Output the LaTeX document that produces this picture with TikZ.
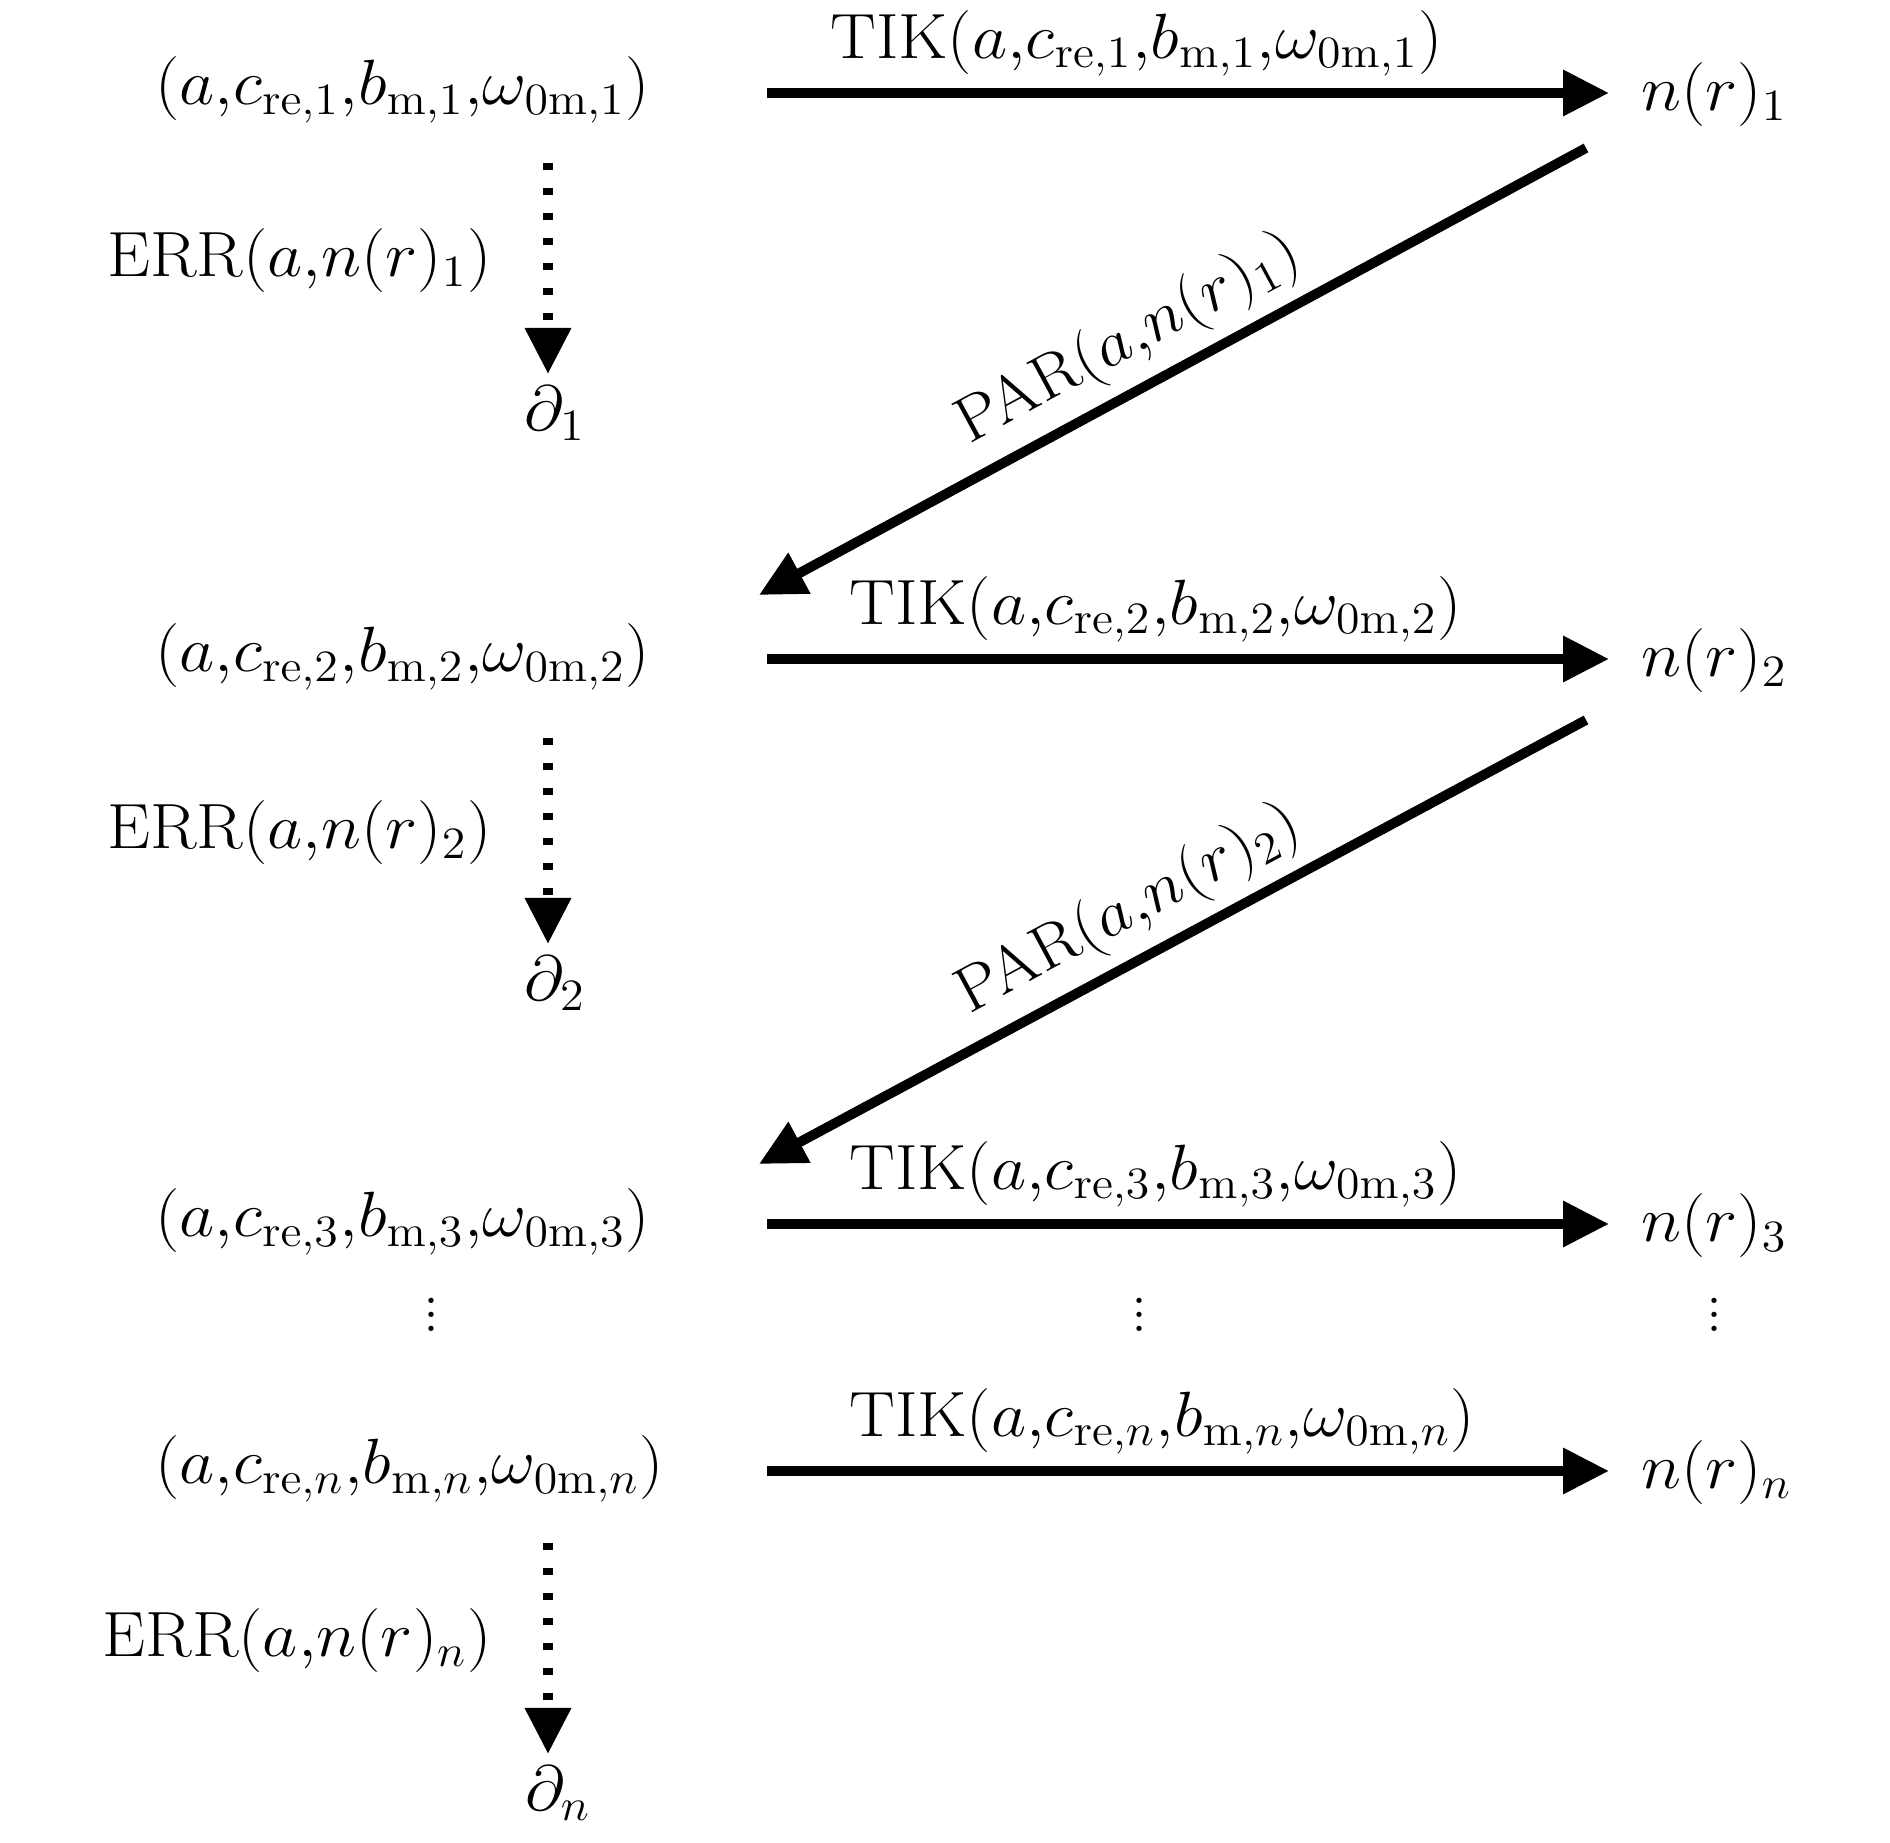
\documentclass[tikz,border=0pt]{standalone}
\usepackage{fix-cm}
\usepackage{tikz}
\usetikzlibrary{arrows.meta}

\newcommand{\sx}[1]{\scalebox{1.07}[1]{$#1$}}

\begin{document}
\begin{tikzpicture}[
  tik/.style={line width=2.8pt,-{Triangle[length=4.6mm,width=4.4mm]}},
  err/.style={tik,dash pattern=on 2.1pt off 5pt},
  txt/.style={font=\fontsize{18.2}{22}\selectfont},
  tiklabel/.style={txt,pos=0,above right},
  errlabel/.style={txt,left=0.4cm,yshift=0.08cm},
]
\useasboundingbox (0,0) rectangle (18.9,-18.43);

% free ends of the connectors
\coordinate (S1) at (7.67,-0.93);
\coordinate (S2) at (7.67,-6.59);
\coordinate (S3) at (7.67,-12.24);
\coordinate (Sn) at (7.67,-14.71);
\coordinate (D1) at (5.48,-1.63);
\coordinate (D2) at (5.48,-7.38);
\coordinate (Dn) at (5.48,-15.43);
\coordinate (P1) at (15.86,-1.48);
\coordinate (P2) at (15.86,-7.20);
\coordinate (Q1) at (7.59,-5.95);
\coordinate (Q2) at (7.59,-11.64);

% tuples
\node[txt,anchor=west] (T1) at (1.43,-0.90) {\sx{(a{,}c_{\mathrm{re},1}{,}b_{\mathrm{m},1}{,}\omega_{0\mathrm{m},1})}};
\node[txt,anchor=west] (T2) at (1.43,-6.57) {\sx{(a{,}c_{\mathrm{re},2}{,}b_{\mathrm{m},2}{,}\omega_{0\mathrm{m},2})}};
\node[txt,anchor=west] (T3) at (1.43,-12.22) {\sx{(a{,}c_{\mathrm{re},3}{,}b_{\mathrm{m},3}{,}\omega_{0\mathrm{m},3})}};
\node[txt,anchor=west] (Tn) at (1.43,-14.69) {\sx{(a{,}c_{\mathrm{re},n}{,}b_{\mathrm{m},n}{,}\omega_{0\mathrm{m},n})}};

% results
\node[txt,anchor=west] (R1) at (16.29,-0.95) {\sx{n(r)_1}};
\node[txt,anchor=west] (R2) at (16.29,-6.61) {\sx{n(r)_2}};
\node[txt,anchor=west] (R3) at (16.29,-12.26) {\sx{n(r)_3}};
\node[txt,anchor=west] (Rn) at (16.29,-14.73) {\sx{n(r)_n}};

% errors
\node[txt,anchor=north] (E1) at (5.55,-3.74) {\sx{\partial_1}};
\node[txt,anchor=north] (E2) at (5.55,-9.44) {\sx{\partial_2}};
\node[txt,anchor=north] (En) at (5.58,-17.54) {\sx{\partial_n}};

% dots
\node[txt] (V1) at (4.31,-13.04) {$\vdots$};
\node[txt] (V2) at (11.39,-13.04) {$\vdots$};
\node[txt] (V3) at (17.14,-13.04) {$\vdots$};

\draw[tik,shorten >=0.2cm] (S1) -- node[tiklabel,xshift=0.47cm] {\sx{\mathrm{TIK}(a{,}c_{\mathrm{re},1}{,}b_{\mathrm{m},1}{,}\omega_{0\mathrm{m},1})}} (S1 -| R1.west);
\draw[tik,shorten >=0.2cm] (S2) -- node[tiklabel,xshift=0.66cm] {\sx{\mathrm{TIK}(a{,}c_{\mathrm{re},2}{,}b_{\mathrm{m},2}{,}\omega_{0\mathrm{m},2})}} (S2 -| R2.west);
\draw[tik,shorten >=0.2cm] (S3) -- node[tiklabel,xshift=0.66cm] {\sx{\mathrm{TIK}(a{,}c_{\mathrm{re},3}{,}b_{\mathrm{m},3}{,}\omega_{0\mathrm{m},3})}} (S3 -| R3.west);
\draw[tik,shorten >=0.2cm] (Sn) -- node[tiklabel,xshift=0.66cm] {\sx{\mathrm{TIK}(a{,}c_{\mathrm{re},n}{,}b_{\mathrm{m},n}{,}\omega_{0\mathrm{m},n})}} (Sn -| Rn.west);

\draw[err] (D1) -- node[errlabel] {\sx{\mathrm{ERR}(a{,}n(r)_1)}} (D1 |- E1.north);
\draw[err] (D2) -- node[errlabel] {\sx{\mathrm{ERR}(a{,}n(r)_2)}} (D2 |- E2.north);
\draw[err] (Dn) -- node[errlabel] {\sx{\mathrm{ERR}(a{,}n(r)_n)}} (Dn |- En.north);

\draw[tik] (P1) -- node[txt,sloped,above,pos=0.525] {\sx{\mathrm{PAR}(a{,}n(r)_1)}} (Q1);
\draw[tik] (P2) -- node[txt,sloped,above,pos=0.525] {\sx{\mathrm{PAR}(a{,}n(r)_2)}} (Q2);
\end{tikzpicture}
\end{document}
